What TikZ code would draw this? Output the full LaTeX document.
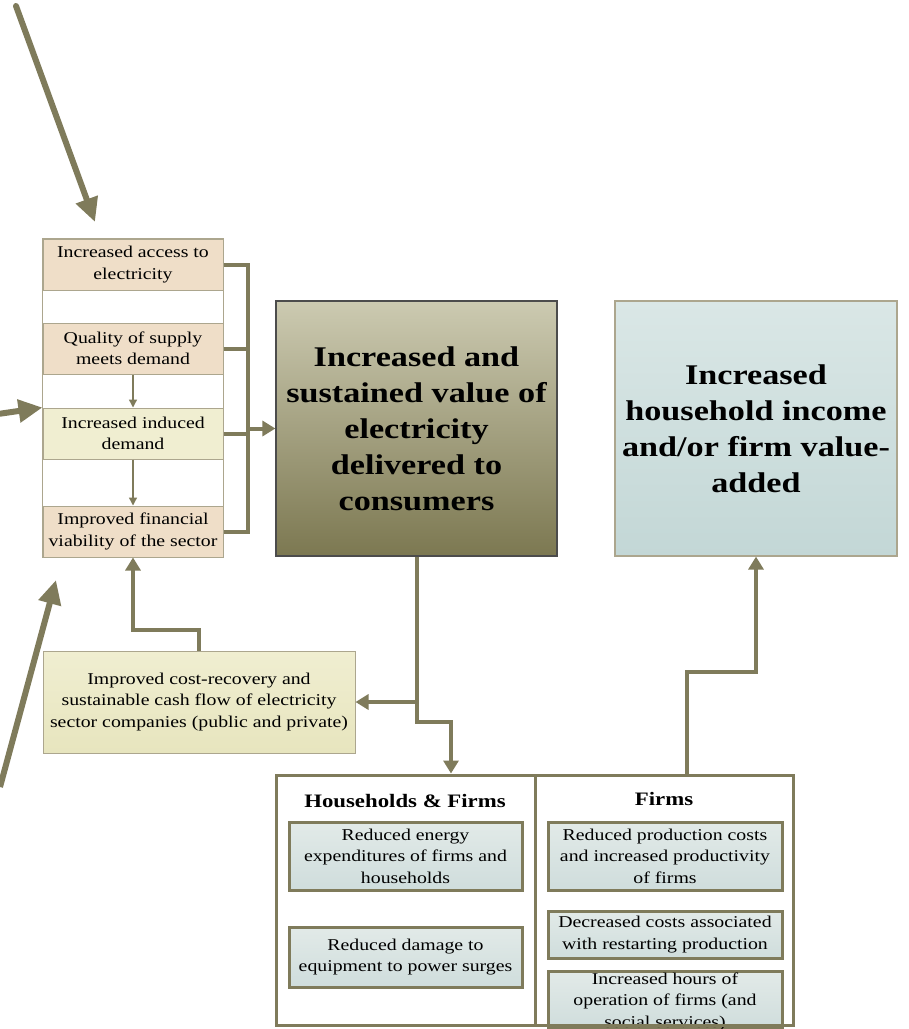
\documentclass[tikz,border=0pt]{standalone}
\usepackage{fontspec}
\setmainfont{Liberation Serif}[FakeStretch=1.2]
\usepackage{tikz}
\usetikzlibrary{arrows.meta, positioning, calc}
\definecolor{olivelink}{RGB}{127,123,91}
\definecolor{framegray}{RGB}{172,166,142}
\definecolor{tanfill}{RGB}{239,222,200}
\definecolor{lemonfill}{RGB}{240,238,209}
\definecolor{lemondeep}{RGB}{231,229,190}
\definecolor{valuetop}{RGB}{204,202,177}
\definecolor{valuebot}{RGB}{124,120,81}
\definecolor{incometop}{RGB}{218,231,230}
\definecolor{incomebot}{RGB}{195,215,214}
\definecolor{effecttop}{RGB}{226,234,232}
\definecolor{effectbot}{RGB}{207,221,220}

\begin{document}
\begin{tikzpicture}[
    x=1pt, y=-1pt,
    stage/.style={draw=framegray, line width=1pt, minimum width=180pt, minimum height=51pt, inner sep=0pt, align=center, font=\fontsize{16.5}{21.5}\selectfont},
    outcome/.style={line width=1.2pt, minimum width=281pt, minimum height=255pt, inner sep=0pt, align=center, font=\fontsize{28.5}{36}\selectfont\bfseries},
    panel/.style={draw=olivelink, line width=3pt, inner sep=0pt},
    effect/.style={draw=olivelink, line width=3pt, top color=effecttop, bottom color=effectbot, minimum width=233pt, inner sep=0pt, align=center, font=\fontsize{16.5}{21.5}\selectfont},
    heading/.style={font=\fontsize{19}{22}\selectfont\bfseries},
    conn/.style={draw=olivelink, line width=4pt},
    arr/.style={-{Triangle[length=13pt, width=15pt]}},
    feed/.style={draw=olivelink, line width=6pt, line cap=round, -{Triangle[length=24pt, width=22pt]}},
    thin/.style={draw=olivelink, line width=1.3pt, -{Triangle[length=8pt, width=8pt]}}
]
    \useasboundingbox (0,0) rectangle (909,1029);

    % Left column of stages
    \node[stage, fill=tanfill] (access) at (133,264.5) {Increased access to\\electricity};
    \node[stage, fill=tanfill] (quality) at (133,348.5) {Quality of supply\\meets demand};
    \node[stage, fill=lemonfill] (induced) at (133,433.5) {Increased induced\\demand};
    \node[stage, fill=tanfill] (financial) at (133,531.5) {Improved financial\\viability of the sector};
    \draw[framegray, line width=1pt] (access.north west) rectangle (financial.south east);

    \draw[thin] (quality.south) -- (induced.north);
    \draw[thin] (induced.south) -- (financial.north);

    % Outcomes
    \node[outcome, draw=black!70, top color=valuetop, bottom color=valuebot] (value) at (416.5,428.5) {Increased and\\sustained value of\\electricity\\delivered to\\consumers};
    \node[outcome, draw=framegray, top color=incometop, bottom color=incomebot, minimum width=282pt] (income) at (756,428.5) {Increased\\household income\\and/or firm value-\\added};

    \node[stage, top color=lemonfill, bottom color=lemondeep, draw=framegray, minimum width=312pt, minimum height=102pt] (cash) at (199,702) {Improved cost-recovery and\\sustainable cash flow of electricity\\sector companies (public and private)};

    % Effects
    \node[effect, minimum height=68pt] (energy) at (405.5,856) {Reduced energy\\expenditures of firms and\\households};
    \node[effect, minimum height=60pt] (damage) at (405.5,957) {Reduced damage to\\equipment to power surges};
    \node[effect, minimum width=234pt, minimum height=68pt] (costs) at (665,856) {Reduced production costs\\and increased productivity\\of firms};
    \node[effect, minimum width=234pt, minimum height=47pt] (restart) at (665,934.5) {Decreased costs associated\\with restarting production};
    \node[effect, minimum width=234pt, minimum height=57pt, text depth=0pt] (hours) at (665,1000) {Increased hours of\\operation of firms (and\\social services)};

    \node[panel, minimum width=259pt, minimum height=250pt] (hhpanel) at (405.5,900) {};
    \node[panel, minimum width=258pt, minimum height=250pt] (firmpanel) at (664,900) {};
    \node[heading] (hhhead) at (405,801) {Households \& Firms};
    \node[heading] (firmhead) at (664,799) {Firms};

    % Links
    \coordinate (brk) at (248,0);
    \draw[conn] (access.east) -- (access.east -| brk) -- (financial.east -| brk) -- (financial.east);
    \draw[conn] (quality.east) -- (quality.east -| brk);
    \draw[conn] (induced.east) -- (induced.east -| brk);
    \draw[conn, arr] (value.west -| brk) -- (value.west);

    \coordinate (drop) at (451,722);
    \draw[conn, arr] (value.south) |- (drop) -- (drop |- hhpanel.north);
    \draw[conn, arr] (value.south |- cash.east) -- (cash.east);

    \coordinate (cashup) at (199,630);
    \draw[conn, arr] (cashup |- cash.north) -- (cashup) -| (financial.south);

    \coordinate (rise) at (687,672);
    \draw[conn, arr] (rise |- firmpanel.north) -- (rise) -| (income.south);

    % Incoming arrows
    \coordinate (topin) at (16,6);
    \coordinate (topend) at (95,222);
    \coordinate (midin) at (-2,414);
    \coordinate (lowin) at (0,787);
    \coordinate (lowend) at (56,580);
    \draw[feed] (topin) -- (topend);
    \draw[feed, line cap=butt] (midin) -- (induced.north west);
    \draw[feed, line cap=butt] (lowin) -- (lowend);
\end{tikzpicture}
\end{document}
